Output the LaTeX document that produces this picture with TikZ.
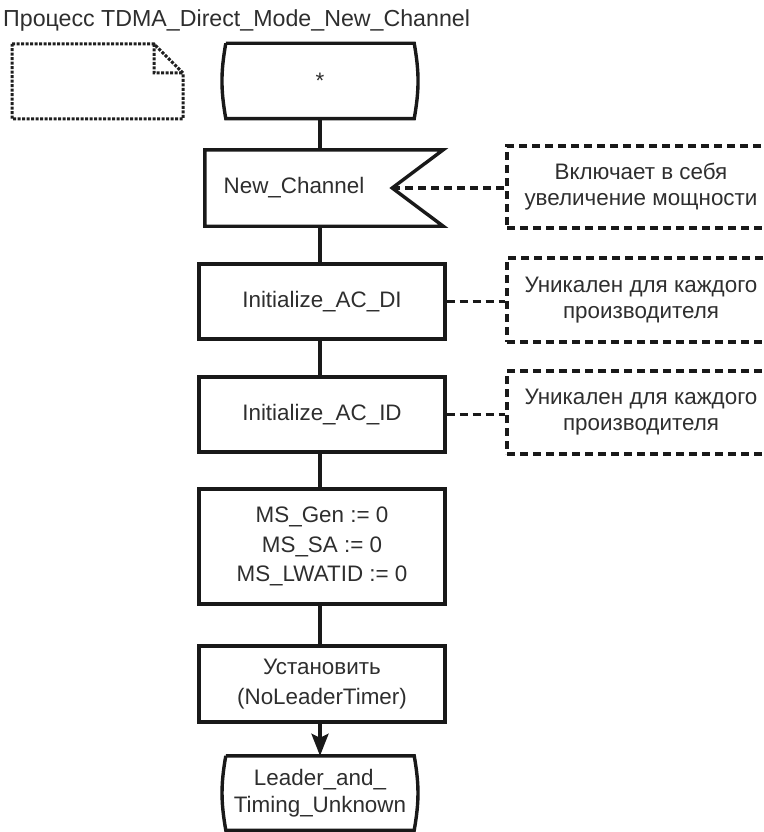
\documentclass[tikz,border=0pt]{standalone}
\usepackage{fontspec}
\setmainfont{Liberation Sans}
\usetikzlibrary{arrows.meta,calc}

\begin{document}
\begin{tikzpicture}[x=1pt, y=-1pt, >={Stealth[length=22pt,width=17pt,inset=4pt]},
    every node/.style={font=\fontsize{22.4}{29.5}\selectfont, text=black!82, inner sep=0pt},
    box/.style={draw=black!90, line width=3.4pt, minimum width=246pt, minimum height=76pt, align=center},
    term/.style={minimum width=188pt, minimum height=75pt, align=center, font=\fontsize{22.4}{27}\selectfont},
    note/.style={draw=black!90, line width=3.4pt, dash pattern=on 8pt off 5pt, minimum width=268pt,
      minimum height=83pt, align=center, font=\fontsize{22.4}{26}\selectfont},
    link/.style={line width=3.4pt, draw=black!90},
    notelink/.style={link, dash pattern=on 8pt off 5pt}]
    \clip (0,0) rectangle (763,832);

    \node[anchor=base west, font=\fontsize{23.2}{28}\selectfont] (title) at (3,27)
      {Процесс TDMA\_Direct\_Mode\_New\_Channel};

    \draw[line width=3pt, draw=black!88, dash pattern=on 3pt off 1.5pt]
      (12,44) -- (154,44) -- (183,73) -- (183,119) -- (12,119) -- cycle
      (154,44) -- (154,73) -- (183,73);

    \node[term] (start) at (320,81) {*};
    \draw[link] (start.north west) -- (start.north east) to[bend left=10] (start.south east)
      -- (start.south west) to[bend left=10] (start.north west);

    \node[minimum width=238pt, minimum height=76pt] (newch) at (324,188) {};
    \coordinate (notch) at ($(newch.east)+(-51,0)$);
    \draw[link] (newch.north west) -- (newch.north east) -- (notch) -- (newch.south east)
      -- (newch.south west) -- cycle;
    \node (newchtext) at (294,188) {New\_Channel};

    \node[box, minimum height=75pt] (acdi) at (322,301.5) {Initialize\_AC\_DI};
    \node[box, minimum height=75pt] (acid) at (322,414.5) {Initialize\_AC\_ID};
    \node[box, minimum height=115pt] (ms) at (322,546.5) {MS\_Gen := 0\\MS\_SA := 0\\MS\_LWATID := 0};
    \node[box] (timer) at (322,684) {Установить\\(NoLeaderTimer)};

    \node[term, minimum height=74pt] (unknown) at (320,793) {Leader\_and\_\\Timing\_Unknown};
    \draw[link] (unknown.north west) -- (unknown.north east) to[bend left=10] (unknown.south east)
      -- (unknown.south west) to[bend left=10] (unknown.north west);

    \draw[link] (start.south) -- (newch.north -| start);
    \draw[link] (newch.south -| start) -- (acdi.north -| start);
    \draw[link] (acdi.south -| start) -- (acid.north -| start);
    \draw[link] (acid.south -| start) -- (ms.north -| start);
    \draw[link] (ms.south -| start) -- (timer.north -| start);
    \draw[link, ->] (timer.south -| start) -- (unknown.north -| start);

    \node[note, minimum height=82pt] (c1) at (641,187) {Включает в себя\\увеличение мощности};
    \node[note, minimum height=84pt] (c2) at (641,300) {Уникален для каждого\\производителя};
    \node[note] (c3) at (641,412.5) {Уникален для каждого\\производителя};

    \draw[notelink] (notch) -- (notch -| c1.west);
    \draw[notelink] (acdi.east) -- (acdi.east -| c2.west);
    \draw[notelink] (acid.east) -- (acid.east -| c3.west);
  \end{tikzpicture}
\end{document}
